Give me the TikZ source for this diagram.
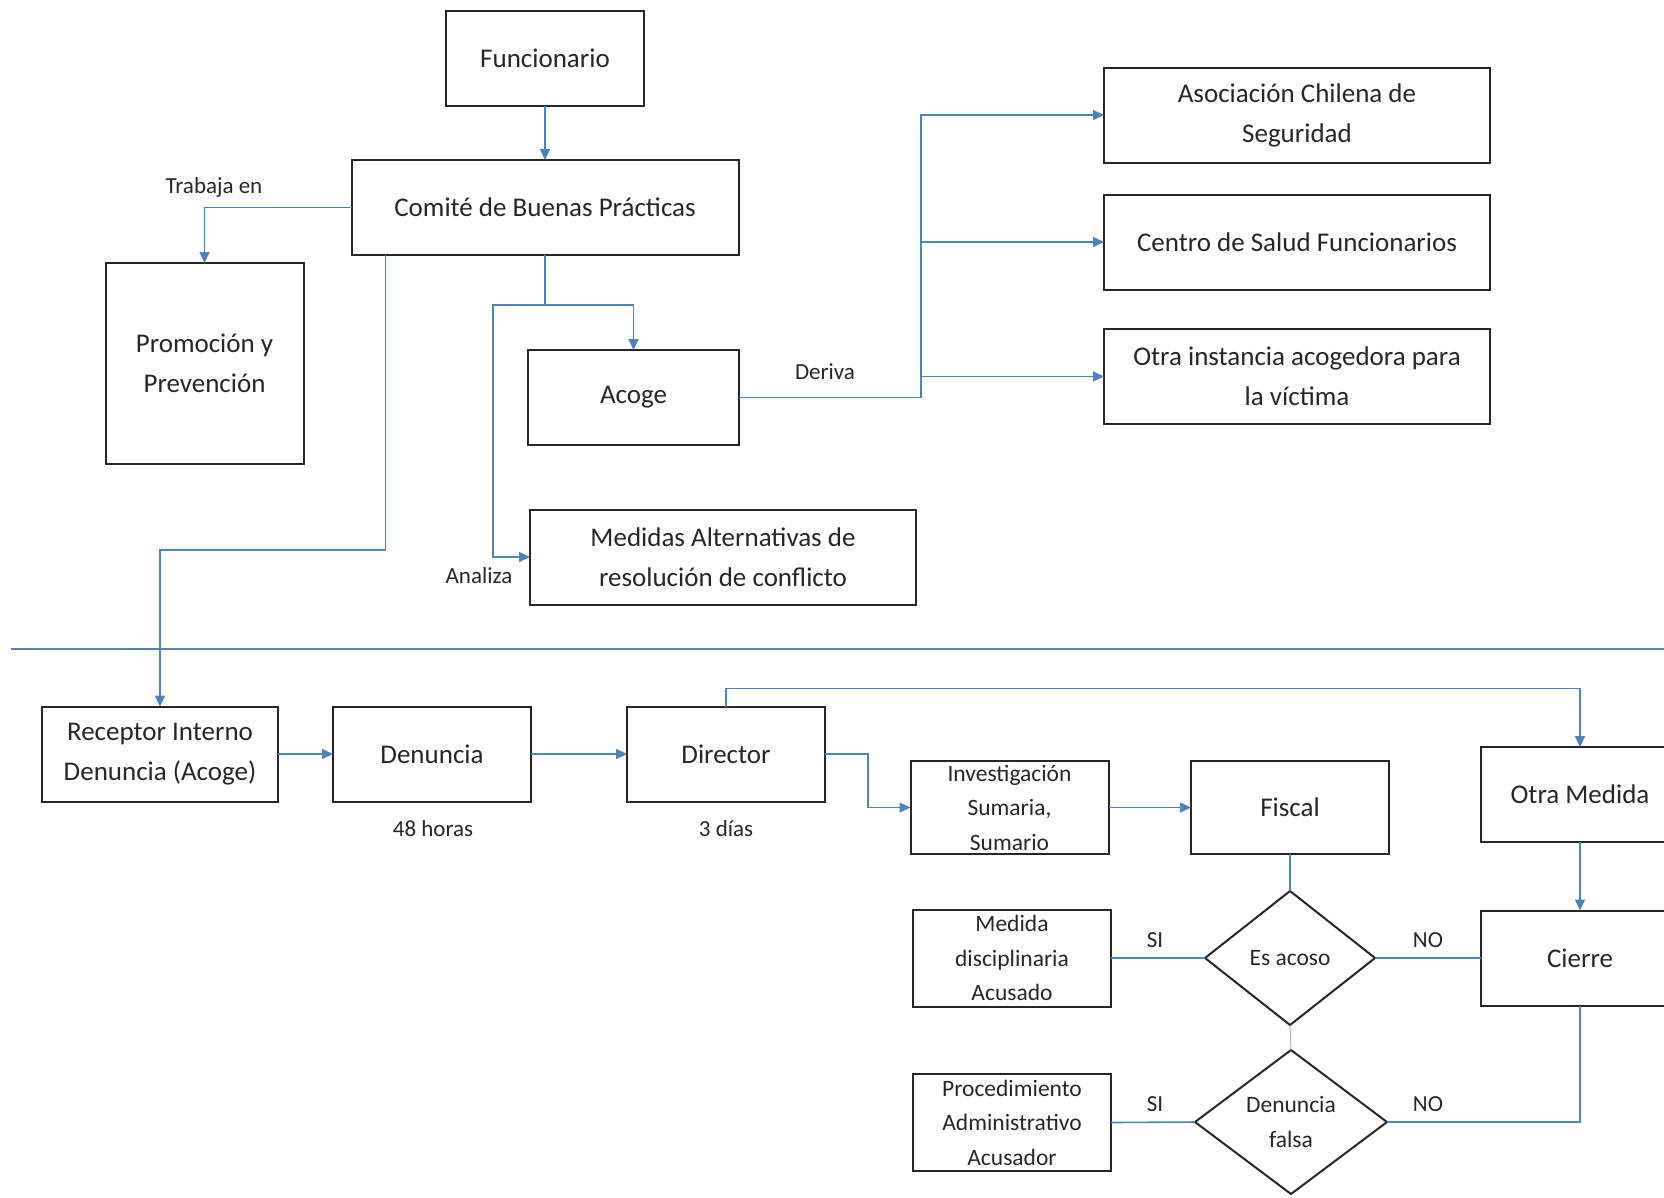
\documentclass[tikz,border=0pt]{standalone}
\usepackage{fontspec}
\setmainfont{Carlito}
\usetikzlibrary{arrows.meta, shapes.geometric, positioning, calc}
\definecolor{linkblue}{RGB}{79,129,189}
\definecolor{boxline}{RGB}{38,38,38}

\begin{document}
\begin{tikzpicture}[
            x=1pt, y=-1pt,
            >={Triangle[length=11pt,width=10pt]},
            box/.style={draw=boxline, line width=2pt, outer sep=0pt, inner sep=2pt, align=center,
                minimum width=198pt, minimum height=95pt, text=boxline, font=\fontsize{27}{40}\selectfont},
            smallbox/.style={box, inner sep=0pt, font=\fontsize{23.5}{34.5}\selectfont},
            decision/.style={diamond, draw=boxline, line width=2pt, outer sep=0pt, inner sep=0pt, align=center,
                text=boxline, font=\fontsize{23.5}{34.5}\selectfont},
            link/.style={draw=linkblue, line width=1.6pt},
            lbl/.style={inner sep=0pt, text=boxline, font=\fontsize{23}{28}\selectfont}
        ]

            \clip (0,0) rectangle (1664,1197);

            % --- Upper part: boxes ---
            \node[box] (func) at (545,58) {Funcionario};
            \node[box, minimum width=387pt] (comite) at (545,207.5) {Comité de Buenas Prácticas};
            \node[box, minimum height=201pt] (promo) at (204.5,363.5) {Promoción y\\Prevención};
            \node[box, minimum width=211pt] (acoge) at (633.5,397.5) {Acoge};
            \node[box, minimum width=386pt] (medidas) at (723,557) {Medidas Alternativas de\\resolución de conflicto};

            \node[box, minimum width=386pt] (asoc) at (1297,115) {Asociación Chilena de\\Seguridad};
            \node[box, minimum width=386pt] (centro) at (1297,242) {Centro de Salud Funcionarios};
            \node[box, minimum width=386pt] (otrainst) at (1297,376.5) {Otra instancia acogedora para\\la víctima};

            % --- Upper part: labels ---
            \node[lbl] (trabaja) at (214,187) {Trabaja en};
            \node[lbl] (deriva) at (825,372) {Deriva};
            \node[lbl] (analiza) at (479,576) {Analiza};

            % --- Upper part: connectors ---
            \draw[link,->] (func.south) -- (func.south |- comite.north);
            \draw[link,->] (comite.west) -| (promo.north);
            \coordinate (split) at (545,305);
            \draw[link,->] (comite.south) -- (split) -| (acoge.north);
            \draw[link,->] (split) -- ++(-52,0) |- (medidas.west);

            \path (acoge.east) ++(182,0) coordinate (hub);
            \draw[link,->] (acoge.east) -- (hub) |- (asoc.west);
            \draw[link,->] (hub) |- (centro.west);
            \draw[link,->] (hub) |- (otrainst.west);

            % --- Separator ---
            \draw[link] (11,649) -- (1664,649);

            % --- Lower part: boxes ---
            \node[box, minimum width=236pt] (recep) at (160,754) {Receptor Interno\\Denuncia (Acoge)};
            \node[box] (denuncia) at (432,754) {Denuncia};
            \node[box] (director) at (726,754) {Director};
            \node[smallbox, minimum height=93pt] (invest) at (1009.5,807.5) {Investigación\\Sumaria,\\Sumario};
            \node[box, minimum height=93pt] (fiscal) at (1290,807.5) {Fiscal};
            \node[box] (otramed) at (1580,794.5) {Otra Medida};
            \node[box] (cierre) at (1580,958) {Cierre};

            \node[smallbox, minimum height=97pt] (medida) at (1012,958) {Medida\\disciplinaria\\Acusado};
            \node[decision, minimum width=170pt, minimum height=134pt] (acoso) at (1290,958) {Es acoso};
            \node[smallbox, minimum height=97pt] (proc) at (1012,1122.5) {Procedimiento\\Administrativo\\Acusador};
            \node[decision, minimum width=192pt, minimum height=144pt] (falsa) at (1291,1122) {Denuncia\\falsa};

            % --- Lower part: labels ---
            \node[lbl] (horas) at (433,829) {48 horas};
            \node[lbl] (dias) at (726,829) {3 días};
            \node[lbl] (si1) at (1155,940) {SI};
            \node[lbl] (no1) at (1428,940) {NO};
            \node[lbl] (si2) at (1155,1104) {SI};
            \node[lbl] (no2) at (1428,1104) {NO};

            % --- Lower part: connectors ---
            \draw[link,->] ([xshift=34pt]comite.south west) |- (160,550) -- (recep.north);
            \draw[link,->] (recep) -- (denuncia);
            \draw[link,->] (denuncia) -- (director);
            \draw[link,->] (director.east) -- ++(43,0) |- (invest.west);
            \draw[link,->] (director.north) -- ++(0,-18) -| (otramed.north);
            \draw[link,->] (invest) -- (fiscal);
            \draw[link] (fiscal.south) -- (acoso.north);
            \draw[link] (acoso.west) -- (medida.east);
            \draw[link] (acoso.east) -- (cierre.west);
            \draw[link,->] (otramed) -- (cierre);
            \draw[black!30, line width=1pt] (acoso.south) -- (falsa.north);
            \draw[link] (falsa.west) -- (proc.east);
            \draw[link] (falsa.east) -| (cierre.south);

        \end{tikzpicture}
\end{document}
